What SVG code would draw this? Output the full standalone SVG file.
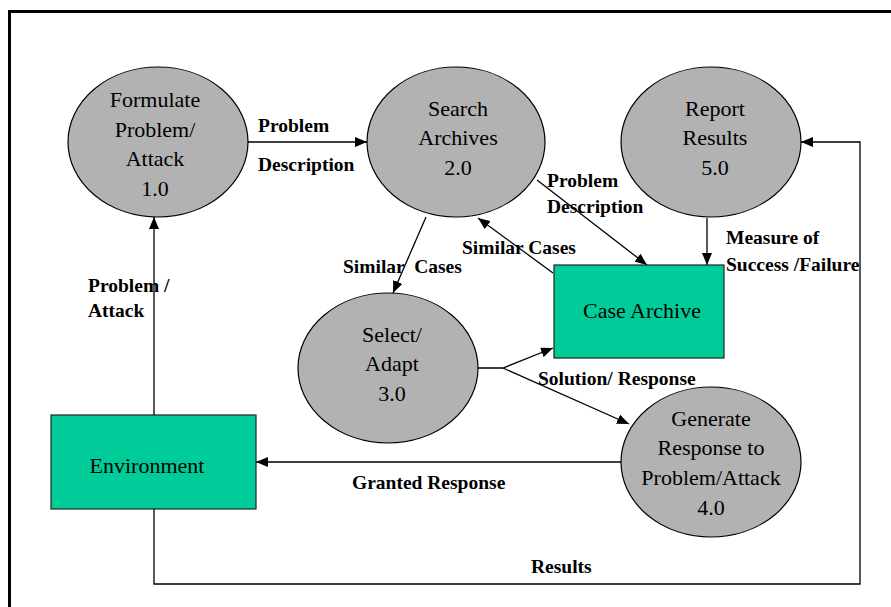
<svg xmlns="http://www.w3.org/2000/svg" width="891" height="607" viewBox="0 0 891 607">
<style>
.proc ellipse{fill:#b2b2b2;stroke:#000;stroke-width:1.2}
.store rect{fill:#00cc99;stroke:#222;stroke-width:1.2}
.nt{font-size:22px;fill:#000;text-anchor:middle}
.lb{font-size:19.5px;font-weight:bold;fill:#000}
.c{fill:none;stroke:#000;stroke-width:1.3}
</style>
<defs>
<marker id="ah" markerWidth="12" markerHeight="10" refX="12" refY="5" orient="auto" markerUnits="userSpaceOnUse">
<path d="M0,0 L12,5 L0,10 Z" fill="#000"/>
</marker>
</defs>
<rect width="891" height="607" fill="#fff"/>
<path d="M9.5,607 V11.5 H891" fill="none" stroke="#000" stroke-width="3"/>

<g id="connectors" font-family="'Liberation Serif', 'DejaVu Serif', serif">
<line class="c" x1="247" y1="142" x2="367" y2="142" marker-end="url(#ah)"/>
<line class="c" x1="426" y1="217" x2="393" y2="293" marker-end="url(#ah)"/>
<line class="c" x1="154" y1="415" x2="154" y2="217" marker-end="url(#ah)"/>
<line class="c" x1="537" y1="180" x2="647" y2="265" marker-end="url(#ah)"/>
<line class="c" x1="553" y1="273" x2="478" y2="218" marker-end="url(#ah)"/>
<line class="c" x1="707" y1="218" x2="707" y2="265" marker-end="url(#ah)"/>
<polyline class="c" points="477,368 503,368 553,348" marker-end="url(#ah)"/>
<line class="c" x1="503" y1="368" x2="629" y2="424" marker-end="url(#ah)"/>
<line class="c" x1="622" y1="462" x2="256" y2="462" marker-end="url(#ah)"/>
<polyline class="c" points="154,509 154,584 860,584 860,142 801,142" marker-end="url(#ah)"/>
<text class="lb" x="258" y="132">Problem</text>
<text class="lb" x="258" y="171">Description</text>
<text class="lb" x="343" y="273" xml:space="preserve">Similar  Cases</text>
<text class="lb" x="88" y="292">Problem /</text>
<text class="lb" x="88" y="317">Attack</text>
<text class="lb" x="547" y="187">Problem</text>
<text class="lb" x="547" y="213">Description</text>
<text class="lb" x="462" y="254">Similar Cases</text>
<text class="lb" x="726" y="244">Measure of</text>
<text class="lb" x="726" y="271">Success /Failure</text>
<text class="lb" x="538" y="385">Solution/ Response</text>
<text class="lb" x="352" y="489">Granted Response</text>
<text class="lb" x="531" y="573">Results</text>
</g>

<g id="n1" class="proc" font-family="'Liberation Serif', 'DejaVu Serif', serif">
<ellipse cx="158" cy="142" rx="90" ry="75"/>
<text class="nt" x="155" y="107">Formulate</text>
<text class="nt" x="155" y="137">Problem/</text>
<text class="nt" x="155" y="166">Attack</text>
<text class="nt" x="155" y="196">1.0</text>
</g>
<g id="n2" class="proc" font-family="'Liberation Serif', 'DejaVu Serif', serif">
<ellipse cx="456" cy="142" rx="89" ry="75"/>
<text class="nt" x="458" y="116">Search</text>
<text class="nt" x="458" y="145">Archives</text>
<text class="nt" x="458" y="175">2.0</text>
</g>
<g id="n5" class="proc" font-family="'Liberation Serif', 'DejaVu Serif', serif">
<ellipse cx="711" cy="142" rx="90" ry="75"/>
<text class="nt" x="715" y="116">Report</text>
<text class="nt" x="715" y="145">Results</text>
<text class="nt" x="715" y="175">5.0</text>
</g>
<g id="n3" class="proc" font-family="'Liberation Serif', 'DejaVu Serif', serif">
<ellipse cx="388" cy="368" rx="90" ry="75"/>
<text class="nt" x="392" y="342">Select/</text>
<text class="nt" x="392" y="371">Adapt</text>
<text class="nt" x="392" y="401">3.0</text>
</g>
<g id="n4" class="proc" font-family="'Liberation Serif', 'DejaVu Serif', serif">
<ellipse cx="711" cy="462" rx="90" ry="75"/>
<text class="nt" x="711" y="426">Generate</text>
<text class="nt" x="711" y="455">Response to</text>
<text class="nt" x="711" y="485">Problem/Attack</text>
<text class="nt" x="711" y="515">4.0</text>
</g>
<g id="caseArchive" class="store" font-family="'Liberation Serif', 'DejaVu Serif', serif">
<rect x="554" y="265" width="170" height="93"/>
<text class="nt" x="642" y="318">Case Archive</text>
</g>
<g id="environment" class="store" font-family="'Liberation Serif', 'DejaVu Serif', serif">
<rect x="51" y="415" width="205" height="94"/>
<text class="nt" x="147" y="473">Environment</text>
</g>
</svg>
